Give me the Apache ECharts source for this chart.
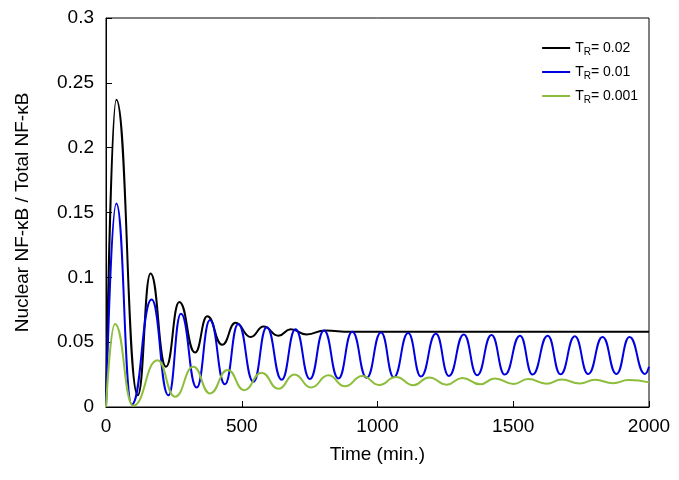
<!DOCTYPE html>
<html>
<head>
<meta charset="utf-8">
<script src="https://cdn.jsdelivr.net/npm/echarts@6/dist/echarts.min.js"></script>
<style>html,body{margin:0;padding:0;background:#fff}#chart{width:679px;height:480px}</style>
</head>
<body>
<div id="chart"></div>
<script>
var seriesNames = ['0.02', '0.01', '0.001'];
var colors = ['#000000', '#0000e0', '#8cbe3c'];
var curve002 = [[0,0],[38,0.237],[117,0.009],[164,0.103],[221,0.031],[270,0.081],[328,0.042],[373,0.070],[428,0.048],[477,0.065],[533,0.054],[580,0.062],[635,0.055],[680,0.060],[739,0.056],[807,0.059],[900,0.058],[1100,0.058],[1500,0.058],[2000,0.058]];
var curve001 = [[0,0],[38,0.157],[95,0.002],[168,0.083],[230,0.009],[276,0.072],[334,0.015],[383,0.067],[438,0.0175],[487,0.064],[543,0.0195],[592,0.0615],[647,0.021],[698,0.060],[751,0.0216],[803,0.059],[856,0.022],[907,0.058],[960,0.0226],[1013,0.0575],[1060,0.023],[1113,0.057],[1160,0.0235],[1215,0.0565],[1263,0.024],[1318,0.056],[1367,0.0245],[1420,0.0555],[1469,0.025],[1525,0.055],[1571,0.025],[1627,0.055],[1674,0.0252],[1727,0.0545],[1776,0.0254],[1829,0.054],[1880,0.0254],[1928,0.054],[1985,0.0255],[2000,0.031]];
var curve0001 = [[0,0],[33,0.064],[100,0.001],[190,0.036],[254,0.008],[322,0.031],[383,0.0105],[448,0.0285],[509,0.013],[573,0.0265],[635,0.014],[694,0.025],[755,0.015],[819,0.0244],[880,0.016],[944,0.024],[1006,0.017],[1068,0.0232],[1132,0.0168],[1190,0.0228],[1255,0.0172],[1312,0.0224],[1378,0.0175],[1432,0.022],[1501,0.0178],[1555,0.0215],[1623,0.018],[1678,0.0212],[1745,0.0182],[1801,0.021],[1868,0.0184],[1924,0.0208],[2000,0.019]];
var curves = [curve002, curve001, curve0001];

var chart = echarts.init(document.getElementById('chart'));
var font = 'Liberation Sans, Arial, sans-serif';
var series = curves.map(function (d, i) {
  return {
    name: seriesNames[i], type: 'line', data: d, showSymbol: false,
    smooth: 0.5, smoothMonotone: 'x',
    lineStyle: {color: colors[i], width: 2}, itemStyle: {color: colors[i]}
  };
});
chart.setOption({
  animation: false,
  grid: {left: 106, right: 30, top: 18, bottom: 73, show: true, borderColor: '#000', borderWidth: 1},
  legend: {
    right: 36, top: 36, orient: 'vertical', icon: 'rect', itemWidth: 28, itemHeight: 2, itemGap: 8,
    data: seriesNames,
    formatter: function (n) { return '{t|T}{s|R}{t|= ' + n + '}'; },
    textStyle: {rich: {t: {fontSize: 14, fontFamily: font, color: '#000'}, s: {fontSize: 10, fontFamily: font, color: '#000', verticalAlign: 'bottom', padding: [8, 0, 0, 0]}}}
  },
  xAxis: {
    type: 'value', min: 0, max: 2000, interval: 500,
    name: 'Time (min.)', nameLocation: 'middle', nameGap: 38,
    nameTextStyle: {fontSize: 19, fontFamily: font, color: '#000'},
    axisLine: {lineStyle: {color: '#000'}}, axisTick: {inside: true, length: 6, lineStyle: {color: '#000'}},
    axisLabel: {fontSize: 19, fontFamily: font, color: '#000', margin: 10, formatter: function (v) { return String(v); }},
    splitLine: {show: false}
  },
  yAxis: {
    type: 'value', min: 0, max: 0.3, interval: 0.05,
    name: 'Nuclear NF-κB / Total NF-κB', nameLocation: 'middle', nameGap: 74,
    nameTextStyle: {fontSize: 19, fontFamily: font, color: '#000'},
    axisLine: {show: true, lineStyle: {color: '#000'}}, axisTick: {inside: true, length: 6, lineStyle: {color: '#000'}},
    axisLabel: {fontSize: 19, fontFamily: font, color: '#000', margin: 12, formatter: function (v) { return String(v); }},
    splitLine: {show: false}
  },
  series: series
});
</script>
</body>
</html>
